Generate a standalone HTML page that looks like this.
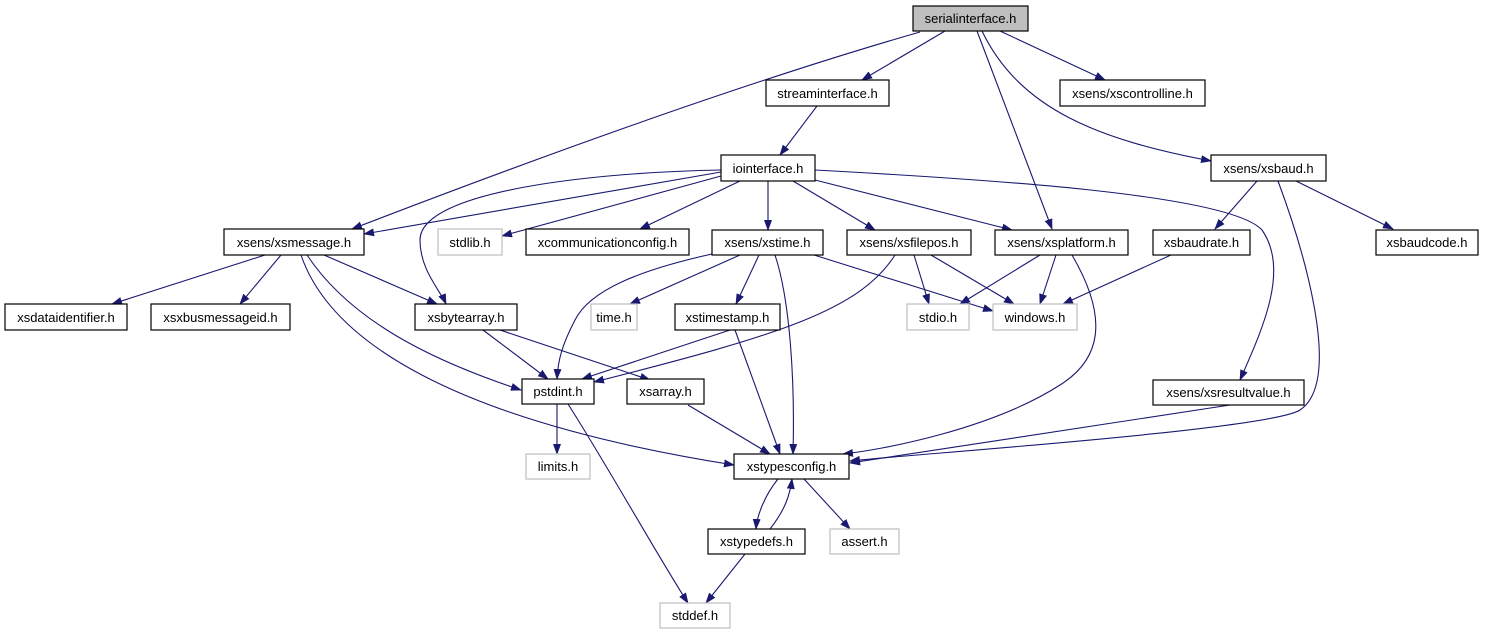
<!DOCTYPE html>
<html><head><meta charset="utf-8"><style>
html,body{margin:0;padding:0;background:#fff;}
svg{display:block}
text{font-family:"Liberation Sans",sans-serif;font-size:13px;fill:#000;text-anchor:middle;}
.b{fill:#fff;stroke:#000;stroke-width:1.2}
.g{fill:#fff;stroke:#bfbfbf;stroke-width:1.2}
.e{fill:none;stroke:#191970;stroke-width:1.1;marker-end:url(#a)}
</style></head><body>
<svg width="1487" height="635" viewBox="0 0 1487 635" xmlns="http://www.w3.org/2000/svg">
<defs><marker id="a" markerWidth="11" markerHeight="8" refX="10" refY="4" orient="auto" markerUnits="userSpaceOnUse"><path d="M0,0 L11,4 L0,8 z" fill="#191970"/></marker></defs>
<!-- edges -->
<path class="e" d="M920,32 Q700,95 352,229"/>
<path class="e" d="M945,31 L862,80"/>
<path class="e" d="M977,31 L1052,229"/>
<path class="e" d="M982,31 C1020,110 1100,140 1211,161"/>
<path class="e" d="M1000,31 L1105,80"/>
<path class="e" d="M817,106 L780,155"/>
<path class="e" d="M721,172 L364,234"/>
<path class="e" d="M721,176 L502,236"/>
<path class="e" d="M740,181 L640,229"/>
<path class="e" d="M768,181 L768,230"/>
<path class="e" d="M793,181 L875,230"/>
<path class="e" d="M815,180 L1012,230"/>
<path class="e" d="M721,170 C600,172 420,190 420,240 C420,270 440,290 446,304"/>
<path class="e" d="M815,170 C1000,180 1230,195 1262,230 C1290,270 1262,330 1240,380"/>
<path class="e" d="M1257,181 L1215,229"/>
<path class="e" d="M1296,181 L1393,229"/>
<path class="e" d="M1278,181 C1300,240 1345,380 1300,410 C1270,430 900,455 850,461"/>
<path class="e" d="M265,255 L112,304"/>
<path class="e" d="M281,255 L240,304"/>
<path class="e" d="M324,255 L437,304"/>
<path class="e" d="M307,255 C350,320 430,360 521,390"/>
<path class="e" d="M301,255 C330,340 450,420 734,465"/>
<path class="e" d="M712,254 C640,270 590,290 575,320 C562,345 558,360 557,379"/>
<path class="e" d="M740,255 L630,304"/>
<path class="e" d="M759,255 L736,304"/>
<path class="e" d="M775,255 C790,300 795,380 793,454"/>
<path class="e" d="M814,255 L993,311"/>
<path class="e" d="M895,255 C860,310 780,335 594,382"/>
<path class="e" d="M914,255 L929,304"/>
<path class="e" d="M931,255 L1014,304"/>
<path class="e" d="M1040,255 L960,304"/>
<path class="e" d="M1056,255 L1040,304"/>
<path class="e" d="M1072,255 C1110,320 1100,360 1060,385 C990,430 880,450 843,454"/>
<path class="e" d="M1171,255 L1063,304"/>
<path class="e" d="M483,330 L548,379"/>
<path class="e" d="M500,330 L650,380"/>
<path class="e" d="M730,330 L582,379"/>
<path class="e" d="M735,330 L780,454"/>
<path class="e" d="M688,405 L770,454"/>
<path class="e" d="M1230,405 L850,463"/>
<path class="e" d="M557,404 L557,454"/>
<path class="e" d="M568,404 C610,470 660,560 688,603"/>
<path class="e" d="M778,479 C765,495 757,515 756,529"/>
<path class="e" d="M770,529 C785,510 790,495 792,479"/>
<path class="e" d="M804,479 L850,529"/>
<path class="e" d="M745,554 L706,603"/>
<!-- nodes -->
<rect x="913" y="6" width="115" height="25" fill="#bfbfbf" stroke="#000" stroke-width="1.2"/><text x="970.5" y="23">serialinterface.h</text>
<rect class="b" x="766" y="80" width="123" height="26"/><text x="827.5" y="98">streaminterface.h</text>
<rect class="b" x="1060" y="80" width="145" height="26"/><text x="1132.5" y="98">xsens/xscontrolline.h</text>
<rect class="b" x="721" y="155" width="94" height="26"/><text x="768" y="173">iointerface.h</text>
<rect class="b" x="1211" y="155" width="115" height="26"/><text x="1268.5" y="173">xsens/xsbaud.h</text>
<rect class="b" x="224" y="229" width="140" height="26"/><text x="294" y="247">xsens/xsmessage.h</text>
<rect class="g" x="438" y="229" width="64" height="26"/><text x="470" y="247">stdlib.h</text>
<rect class="b" x="526" y="229" width="163" height="26"/><text x="607.5" y="247">xcommunicationconfig.h</text>
<rect class="b" x="712" y="230" width="111" height="25"/><text x="767.5" y="247">xsens/xstime.h</text>
<rect class="b" x="847" y="230" width="124" height="25"/><text x="909" y="247">xsens/xsfilepos.h</text>
<rect class="b" x="995" y="230" width="133" height="25"/><text x="1061.5" y="247">xsens/xsplatform.h</text>
<rect class="b" x="1153" y="230" width="97" height="25"/><text x="1201.5" y="247">xsbaudrate.h</text>
<rect class="b" x="1376" y="230" width="102" height="25"/><text x="1427" y="247">xsbaudcode.h</text>
<rect class="b" x="5" y="304" width="122" height="26"/><text x="66" y="322">xsdataidentifier.h</text>
<rect class="b" x="151" y="304" width="139" height="26"/><text x="220.5" y="322">xsxbusmessageid.h</text>
<rect class="b" x="415" y="304" width="102" height="26"/><text x="466" y="322">xsbytearray.h</text>
<rect class="g" x="591" y="304" width="46" height="26"/><text x="614" y="322">time.h</text>
<rect class="b" x="675" y="304" width="105" height="26"/><text x="727.5" y="322">xstimestamp.h</text>
<rect class="g" x="907" y="304" width="62" height="26"/><text x="938" y="322">stdio.h</text>
<rect class="g" x="993" y="304" width="84" height="26"/><text x="1035" y="322">windows.h</text>
<rect class="b" x="522" y="379" width="72" height="25"/><text x="558" y="396">pstdint.h</text>
<rect class="b" x="627" y="379" width="77" height="25"/><text x="665.5" y="396">xsarray.h</text>
<rect class="b" x="1153" y="380" width="151" height="25"/><text x="1228.5" y="397">xsens/xsresultvalue.h</text>
<rect class="g" x="526" y="454" width="64" height="25"/><text x="558" y="471">limits.h</text>
<rect class="b" x="734" y="454" width="115" height="25"/><text x="791.5" y="471">xstypesconfig.h</text>
<rect class="b" x="708" y="529" width="97" height="25"/><text x="756.5" y="546">xstypedefs.h</text>
<rect class="g" x="830" y="529" width="69" height="25"/><text x="864.5" y="546">assert.h</text>
<rect class="g" x="660" y="603" width="70" height="25"/><text x="695" y="620">stddef.h</text>
</svg>
</body></html>
